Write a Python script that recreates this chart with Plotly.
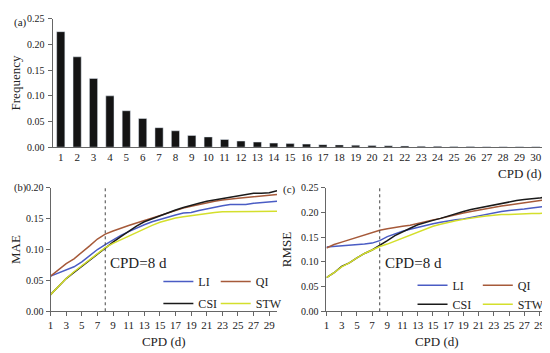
import plotly.graph_objects as go

# ---------------- data ----------------
cpd = list(range(1, 31))
frequency = [0.225, 0.176, 0.134, 0.100, 0.071, 0.056, 0.038, 0.032, 0.023, 0.020,
             0.015, 0.012, 0.010, 0.008, 0.007, 0.006, 0.005, 0.0045, 0.004, 0.0035,
             0.003, 0.0025, 0.002, 0.0018, 0.0015, 0.0012, 0.001, 0.001, 0.0008, 0.0008]

mae_li = [0.057, 0.062, 0.067, 0.072, 0.080, 0.090, 0.100, 0.108, 0.116, 0.123,
          0.129, 0.135, 0.140, 0.145, 0.149, 0.153, 0.156, 0.159, 0.160, 0.163,
          0.166, 0.168, 0.171, 0.173, 0.173, 0.173, 0.175, 0.176, 0.177, 0.178]
mae_qi = [0.057, 0.067, 0.077, 0.085, 0.095, 0.106, 0.117, 0.125, 0.130, 0.135,
          0.139, 0.143, 0.147, 0.152, 0.156, 0.160, 0.164, 0.167, 0.170, 0.173,
          0.176, 0.178, 0.180, 0.182, 0.183, 0.184, 0.185, 0.186, 0.187, 0.189]
mae_csi = [0.027, 0.040, 0.053, 0.063, 0.073, 0.083, 0.093, 0.103, 0.112, 0.121,
           0.130, 0.138, 0.145, 0.150, 0.155, 0.160, 0.164, 0.168, 0.172, 0.175,
           0.178, 0.180, 0.183, 0.185, 0.187, 0.189, 0.191, 0.191, 0.192, 0.195]
mae_stw = [0.027, 0.040, 0.053, 0.064, 0.074, 0.084, 0.094, 0.103, 0.110, 0.116,
           0.122, 0.128, 0.134, 0.139, 0.144, 0.148, 0.151, 0.153, 0.155, 0.157,
           0.159, 0.160, 0.161, 0.161, 0.161, 0.161, 0.161, 0.162, 0.162, 0.162]

rmse_li = [0.130, 0.131, 0.132, 0.133, 0.134, 0.136, 0.138, 0.143, 0.151, 0.157,
           0.162, 0.166, 0.170, 0.174, 0.177, 0.180, 0.183, 0.185, 0.187, 0.190,
           0.193, 0.196, 0.200, 0.202, 0.204, 0.205, 0.207, 0.209, 0.211, 0.213]
rmse_qi = [0.128, 0.135, 0.140, 0.145, 0.150, 0.155, 0.160, 0.164, 0.167, 0.170,
           0.172, 0.174, 0.178, 0.182, 0.185, 0.188, 0.192, 0.196, 0.199, 0.202,
           0.205, 0.208, 0.211, 0.213, 0.215, 0.217, 0.219, 0.221, 0.223, 0.226]
rmse_csi = [0.068, 0.078, 0.091, 0.098, 0.108, 0.117, 0.124, 0.133, 0.143, 0.153,
            0.161, 0.168, 0.175, 0.180, 0.184, 0.188, 0.193, 0.198, 0.202, 0.206,
            0.209, 0.213, 0.216, 0.219, 0.222, 0.224, 0.226, 0.227, 0.229, 0.232]
rmse_stw = [0.068, 0.078, 0.090, 0.098, 0.108, 0.117, 0.124, 0.131, 0.136, 0.142,
            0.149, 0.155, 0.160, 0.166, 0.172, 0.176, 0.180, 0.183, 0.186, 0.189,
            0.191, 0.193, 0.195, 0.196, 0.196, 0.197, 0.197, 0.198, 0.198, 0.199]

methods = ["LI", "QI", "CSI", "STW"]
line_ticks = list(range(1, 30, 2))
cpd_threshold = 8

# ---------------- styles ----------------
FONT = "Liberation Serif"
colors = {"LI": "#4a5cc4", "QI": "#a65a3a", "CSI": "#1a1a1a", "STW": "#d4df2c"}
legend_of = {
    ("b", "LI"): "legend", ("b", "CSI"): "legend",
    ("b", "QI"): "legend2", ("b", "STW"): "legend2",
    ("c", "LI"): "legend3", ("c", "CSI"): "legend3",
    ("c", "QI"): "legend4", ("c", "STW"): "legend4",
}

fig = go.Figure()

fig.add_trace(go.Bar(x=cpd, y=frequency, marker_color="#141414",
                     xaxis="x", yaxis="y", showlegend=False))

mae = {"LI": mae_li, "QI": mae_qi, "CSI": mae_csi, "STW": mae_stw}
rmse = {"LI": rmse_li, "QI": rmse_qi, "CSI": rmse_csi, "STW": rmse_stw}

for m in methods:
    fig.add_trace(go.Scatter(x=cpd, y=mae[m], mode="lines", name=m,
                             line=dict(color=colors[m], width=1.5),
                             xaxis="x2", yaxis="y2", legend=legend_of[("b", m)],
                             legendgroup="b" + m))
for m in methods:
    fig.add_trace(go.Scatter(x=cpd, y=rmse[m], mode="lines", name=m,
                             line=dict(color=colors[m], width=1.5),
                             xaxis="x3", yaxis="y3", legend=legend_of[("c", m)],
                             legendgroup="c" + m))

# page has an 8px body margin; size the figure so it fits the 550x353 window
OFF = 8
W, H = 550 - OFF, 353 - OFF
def px(x): return (x - OFF) / W
def py(y): return 1 - (y - OFF) / H

axis_common = dict(showline=True, linecolor="#666", linewidth=1, ticks="outside",
                   tickcolor="#666", ticklen=4, showgrid=False, zeroline=False,
                   tickfont=dict(family=FONT, size=11, color="#222"))
yax_common = dict(axis_common, ticklabelstandoff=1,
                  tickfont=dict(family=FONT, size=10, color="#222"))

fig.update_layout(
    width=W, height=H, margin=dict(l=0, r=0, t=0, b=0),
    paper_bgcolor="white", plot_bgcolor="white",
    font=dict(family=FONT, color="#222"),
    bargap=0.5,
    xaxis=dict(domain=[px(48), px(545)], anchor="y", range=[0.5, 30.5],
               tickvals=cpd, **{**axis_common, "ticks": ""}),
    yaxis=dict(domain=[py(146), py(13)], anchor="x", range=[0, 0.25], dtick=0.05,
               tickformat=".2f", title=dict(text="Frequency", font=dict(family=FONT, size=13), standoff=8),
               **yax_common),
    xaxis2=dict(domain=[px(46), px(275)], anchor="y2", range=[1, 30], tickvals=line_ticks,
                title=dict(text="CPD (d)", font=dict(family=FONT, size=13), standoff=6),
                **axis_common),
    yaxis2=dict(domain=[py(316), py(188)], anchor="x2", range=[0, 0.20], dtick=0.05,
                tickformat=".2f", title=dict(text="MAE", font=dict(family=FONT, size=13), standoff=9),
                **{**yax_common, "ticklabelstandoff": 0}),
    xaxis3=dict(domain=[px(325), px(548)], anchor="y3", range=[1, 30], tickvals=line_ticks,
                title=dict(text="CPD (d)", font=dict(family=FONT, size=13), standoff=6),
                **axis_common),
    yaxis3=dict(domain=[py(316), py(188)], anchor="x3", range=[0, 0.25], dtick=0.05,
                tickformat=".2f", title=dict(text="RMSE", font=dict(family=FONT, size=13), standoff=6),
                **yax_common),
)

leg_base = dict(orientation="v", bgcolor="rgba(0,0,0,0)", borderwidth=0,
                font=dict(family=FONT, size=12, color="#222"), itemwidth=30,
                xanchor="left", yanchor="top")
fig.update_layout(
    legend=dict(x=px(155), y=py(270), tracegroupgap=3, **leg_base),
    legend2=dict(x=px(213), y=py(270), tracegroupgap=3, **leg_base),
    legend3=dict(x=px(412), y=py(274), tracegroupgap=0, **leg_base),
    legend4=dict(x=px(478), y=py(274), tracegroupgap=0, **leg_base),
)

# threshold lines
for xr, yr in [("x2", "y2"), ("x3", "y3")]:
    fig.add_shape(type="line", xref=xr, yref=f"{yr} domain", x0=cpd_threshold, x1=cpd_threshold,
                  y0=0, y1=1, line=dict(color="#444", width=1, dash="dot"))
    fig.add_annotation(xref=xr, yref=f"{yr} domain", x=cpd_threshold, y=0.39,
                       text=f"CPD={cpd_threshold} d", showarrow=False, xanchor="left",
                       yanchor="middle", xshift=3, font=dict(family=FONT, size=15, color="#222"))

# panel labels and top x title
ann_font = dict(family=FONT, size=11, color="#222")
fig.add_annotation(xref="paper", yref="paper", x=0, y=py(17), text="(a)",
                   showarrow=False, xanchor="left", yanchor="middle", font=ann_font,
                   borderpad=0)
fig.add_annotation(xref="paper", yref="paper", x=0, y=py(188), text="(b)",
                   showarrow=False, xanchor="left", yanchor="middle",
                   font=dict(family=FONT, size=10.5, color="#222"), borderpad=0)
fig.add_annotation(xref="paper", yref="paper", x=px(280), y=py(190), text="(c)",
                   showarrow=False, xanchor="left", yanchor="middle", font=ann_font,
                   borderpad=0)
fig.add_annotation(xref="x domain", yref="y domain", x=1, y=0, yshift=-26,
                   text="CPD (d)", showarrow=False, xanchor="right", yanchor="middle",
                   font=dict(family=FONT, size=13, color="#222"))

fig.write_html("out.html")
